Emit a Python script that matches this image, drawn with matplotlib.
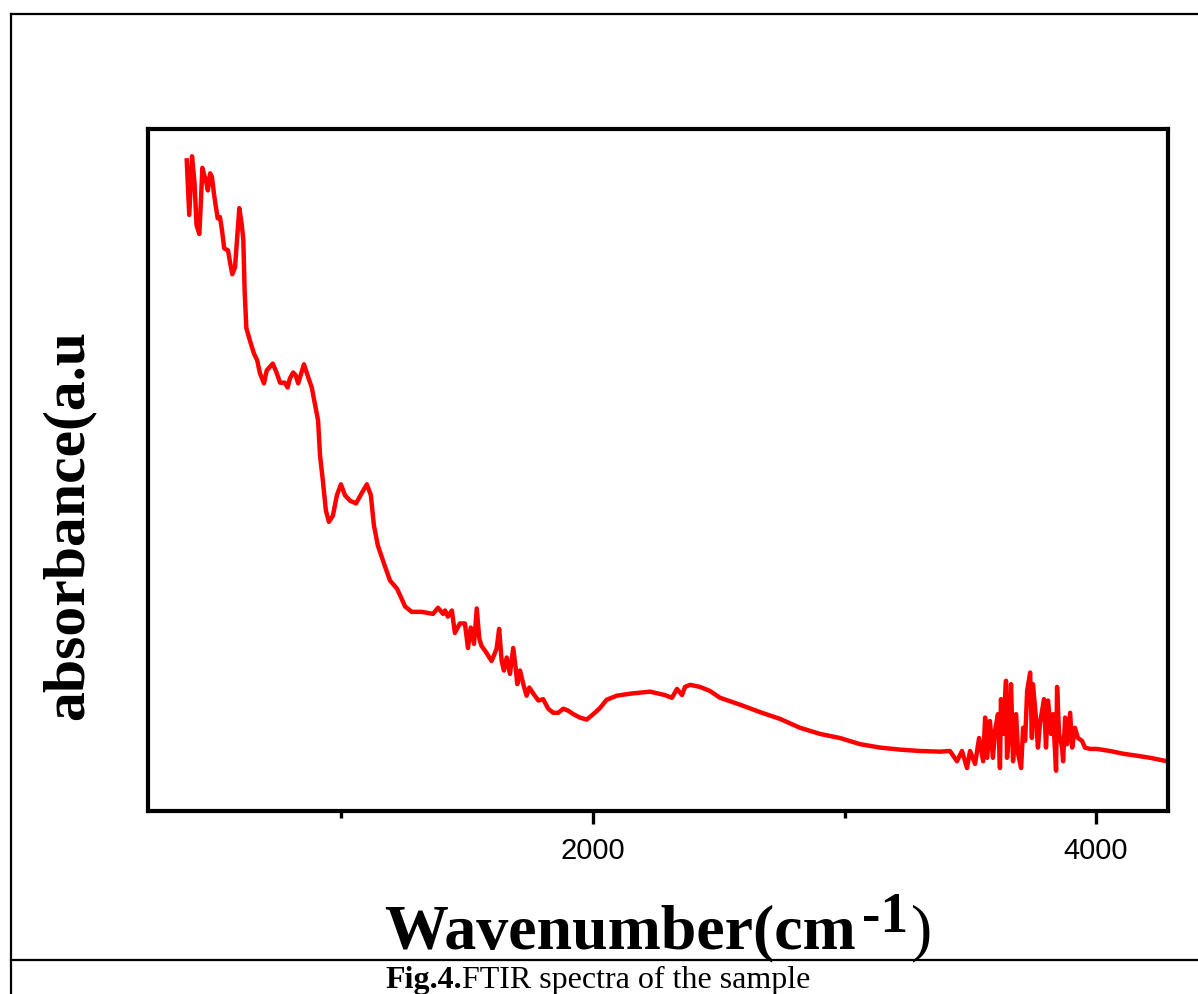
import numpy as np
import matplotlib.pyplot as plt
from matplotlib.lines import Line2D

# FTIR spectrum (wavenumber in cm-1, absorbance in a.u.)
wavenumber = [385, 395, 406, 416, 424, 435, 441, 447, 455, 461, 469, 478, 485, 493,
              500, 508, 517, 525, 534, 549, 557, 566, 577, 585, 594, 604, 610, 615,
              622, 636, 652, 665, 676, 692, 703, 727, 742, 756, 775, 786, 795, 808,
              818, 828, 851, 868, 882, 892, 907, 915, 926, 938, 950, 966, 982, 998,
              1014, 1034, 1058, 1082, 1101, 1117, 1129, 1145, 1169, 1193, 1221, 1253,
              1279, 1319, 1364, 1384, 1404, 1412, 1423, 1439, 1451, 1471, 1491, 1503,
              1514, 1527, 1538, 1548, 1557, 1571, 1597, 1617, 1627, 1637, 1646, 1657,
              1670, 1683, 1693, 1699, 1710, 1723, 1736, 1747, 1763, 1783, 1802, 1822,
              1842, 1862, 1882, 1902, 1922, 1948, 1975, 2001, 2028, 2054, 2094, 2147,
              2227, 2286, 2314, 2334, 2354, 2366, 2386, 2425, 2465, 2505, 2584, 2664,
              2744, 2823, 2903, 2982, 3062, 3141, 3221, 3300, 3380, 3419, 3447, 3467,
              3487, 3499, 3519, 3535, 3551, 3559, 3567, 3578, 3590, 3598, 3610, 3618,
              3622, 3630, 3642, 3646, 3654, 3662, 3670, 3682, 3690, 3702, 3710, 3718,
              3726, 3738, 3745, 3749, 3761, 3769, 3777, 3793, 3801, 3809, 3821, 3829,
              3841, 3845, 3853, 3865, 3869, 3877, 3885, 3897, 3905, 3916, 3928, 3944,
              3956, 3976, 4004, 4056, 4107, 4163, 4215, 4282]
absorbance = [95.4, 87.4, 96.0, 92.1, 85.9, 84.6, 89.1, 94.3, 93.2, 92.5, 91.0, 93.5, 93.0, 90.6,
              88.8, 86.9, 87.1, 85.2, 82.5, 82.2, 80.5, 78.7, 79.7, 83.7, 88.4, 85.9, 83.7, 76.4,
              70.8, 69.0, 67.1, 66.1, 64.2, 62.7, 64.6, 65.6, 64.3, 62.8, 62.8, 62.1, 63.4, 64.3,
              63.9, 62.7, 65.5, 63.6, 62.1, 60.2, 57.3, 52.1, 48.5, 44.1, 42.4, 43.3, 46.3, 47.9,
              46.3, 45.5, 45.1, 46.7, 47.9, 46.3, 41.9, 38.9, 36.3, 33.8, 32.6, 30.0,
              29.2, 29.2, 28.9, 29.8, 28.9, 29.4, 28.5, 29.4, 26.1, 27.5, 27.5, 23.9,
              26.9, 24.5, 29.7, 25.3, 24.2, 23.5, 22.0, 23.8, 26.7, 22.0, 20.6, 22.5,
              20.1, 23.9, 20.9, 18.6, 20.6, 18.6, 16.9, 18.1, 17.2, 16.2, 16.4, 15.0,
              14.4, 14.4, 15.0, 14.7, 14.2, 13.7, 13.4, 14.2, 15.1, 16.3, 16.9, 17.2,
              17.5, 17.0, 16.6, 17.9, 17.0, 18.2, 18.5, 18.2, 17.6, 16.6, 15.6, 14.5,
              13.5, 12.2, 11.3, 10.7, 9.8, 9.3, 9.0, 8.8, 8.7, 8.8, 7.3, 8.8,
              6.3, 8.8, 6.9, 10.7, 7.3, 13.7, 7.8, 13.2, 7.8, 11.7, 14.2, 6.3,
              16.4, 11.3, 19.1, 7.8, 11.3, 18.6, 7.3, 14.2, 8.4, 6.3, 12.2, 10.3,
              17.6, 20.3, 10.7, 18.6, 13.7, 9.3, 12.8, 16.4, 9.3, 16.2, 11.3, 14.2,
              5.9, 18.2, 11.3, 9.3, 7.3, 13.7, 9.8, 14.4, 9.3, 12.2, 10.7, 10.3,
              9.3, 9.1, 9.1, 8.8, 8.4, 8.1, 7.8, 7.3]

major_ticks = [2000, 4000]
minor_ticks = [1000, 3000]

W, H = 1198, 994
fig = plt.figure(figsize=(W / 100, H / 100), dpi=100)
ax = fig.add_axes([148 / W, 1 - 811 / H, 1020 / W, 682 / H])

ax.plot(wavenumber, absorbance, color='red', linewidth=3.2)

ax.set_xlim(231, 4286)
ax.set_ylim(0, 100)
ax.set_xticks(major_ticks)
ax.set_xticks(minor_ticks, minor=True)
ax.set_yticks([])
ax.tick_params(axis='x', which='major', direction='out', length=9, width=2.4,
               pad=10, labelsize=21)
ax.tick_params(axis='x', which='minor', direction='out', length=5, width=2.4)
for lbl in ax.get_xticklabels():
    lbl.set_fontfamily('Liberation Sans')
for s in ax.spines.values():
    s.set_linewidth(3)

serif = 'Liberation Serif'

# x label built from pieces so the superscript stays large, like the original
fig.canvas.draw()
r = fig.canvas.get_renderer()
x0 = 384
base = 1 - 948 / H
p1 = fig.text(x0 / W, base, 'Wavenumber(cm', family=serif, weight='bold',
              fontsize=46, ha='left', va='baseline')
x1 = p1.get_window_extent(r).x1
p2 = fig.text((x1 + 6) / W, base + 16 / H, '-1', family=serif, weight='bold',
              fontsize=40, ha='left', va='baseline')
x2 = p2.get_window_extent(r).x1
fig.text((x2 + 3) / W, base, ')', family=serif, fontsize=46, ha='left', va='baseline')

fig.text(68 / W, 1 - 525 / H, 'absorbance(a.u', family=serif, weight='bold',
         fontsize=43, rotation=90, ha='center', va='center')

# caption with bold figure number
t1 = fig.text(385 / W, 1 - 988 / H, 'Fig.4.', family=serif, weight='bold',
              fontsize=23, ha='left', va='baseline')
bb = t1.get_window_extent(r)
fig.text(bb.x1 / W, 1 - 988 / H, 'FTIR spectra of the sample', family=serif,
         fontsize=23, ha='left', va='baseline')

# page frame
for xs, ys in [([11, 11], [14, H]), ([11, W], [14, 14]), ([11, W], [960, 960])]:
    fig.add_artist(Line2D([x / W for x in xs], [1 - y / H for y in ys],
                          color='black', linewidth=1.6))

fig.savefig('out.png', dpi=100)
